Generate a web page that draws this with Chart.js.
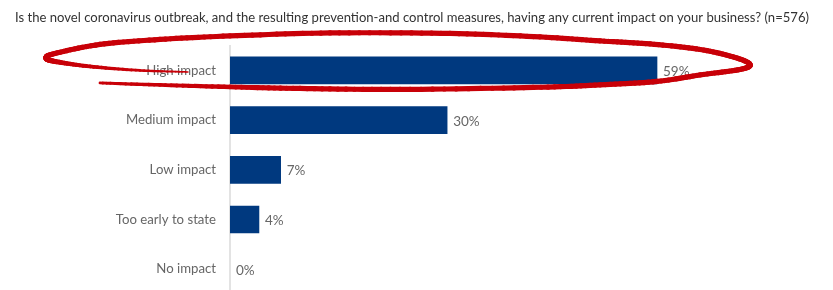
<!DOCTYPE html>
<html>
<head>
<meta charset="utf-8">
<script src="https://cdn.jsdelivr.net/npm/chart.js@4/dist/chart.umd.min.js"></script>
<style>
  html, body { margin: 0; padding: 0; background: #fff; overflow: hidden; }
  canvas { display: block; }
</style>
</head>
<body>
<canvas id="c" width="833" height="302" style="width:833px;height:302px"></canvas>
<script>
const TITLE = 'Is the novel coronavirus outbreak, and the resulting prevention-and control measures, having any current impact on your business? (n=576)';
const categories = ['High impact', 'Medium impact', 'Low impact', 'Too early to state', 'No impact'];
const values = [59, 30, 7, 4, 0];
const valueLabels = ['59%', '30%', '7%', '4%', '0%'];

const FONT = 'Lato, "Open Sans", sans-serif';

const valueLabelPlugin = {
  id: 'valueLabels',
  afterDatasetsDraw(chart) {
    const ctx = chart.ctx;
    const meta = chart.getDatasetMeta(0);
    ctx.save();
    ctx.font = '13.5px ' + FONT;
    ctx.fillStyle = '#666666';
    ctx.textBaseline = 'middle';
    ctx.textAlign = 'left';
    meta.data.forEach((bar, i) => {
      ctx.fillText(valueLabels[i], bar.x + 6, bar.y + 1);
    });
    ctx.restore();
  }
};

// hand-drawn red highlight around the first category, anchored to its row
const highlightPlugin = {
  id: 'highlight',
  afterDraw(chart) {
    const ctx = chart.ctx;
    const y0 = chart.scales.y.getPixelForValue(0);
    const x0 = chart.chartArea.left;
    // offsets relative to (axis left, row centre)
    const pts = [
      [-42, 1.5], [-90, 0], [-140, -4], [-175, -9], [-184, -12.5],
      [-175, -17], [-130, -26], [-70, -31], [0, -34.5], [100, -37.5],
      [220, -37], [310, -33.5], [370, -29.5], [420, -26.5], [470, -21],
      [505, -13], [520, -6], [510, -1], [470, 4.5], [427, 11],
      [370, 14.5], [303, 17], [170, 19], [70, 18], [0, 16.5],
      [-70, 14.5], [-130, 12.5]
    ].map(p => [x0 + p[0], y0 + p[1]]);
    const samples = [];
    for (let i = 0; i < pts.length - 1; i++) {
      const p0 = pts[Math.max(0, i - 1)], p1 = pts[i], p2 = pts[i + 1], p3 = pts[Math.min(pts.length - 1, i + 2)];
      for (let s = 0; s < 12; s++) {
        const t = s / 12, t2 = t * t, t3 = t2 * t;
        const f = (a, b, c, d) => 0.5 * ((2 * b) + (-a + c) * t + (2 * a - 5 * b + 4 * c - d) * t2 + (-a + 3 * b - 3 * c + d) * t3);
        samples.push([f(p0[0], p1[0], p2[0], p3[0]), f(p0[1], p1[1], p2[1], p3[1])]);
      }
    }
    samples.push(pts[pts.length - 1]);
    ctx.save();
    ctx.strokeStyle = '#c80008';
    ctx.lineCap = 'round';
    const n = samples.length;
    for (let i = 0; i < n - 1; i++) {
      const u = i / (n - 1);
      let w = 5.2;
      if (u < 0.12) w = 1.5 + 3.7 * (u / 0.12);
      if (u > 0.9) w = 5.2 - 2.5 * ((u - 0.9) / 0.1);
      ctx.lineWidth = w;
      ctx.beginPath();
      ctx.moveTo(samples[i][0], samples[i][1]);
      ctx.lineTo(samples[i + 1][0], samples[i + 1][1]);
      ctx.stroke();
    }
    ctx.restore();
  }
};

new Chart(document.getElementById('c'), {
  type: 'bar',
  data: {
    labels: categories,
    datasets: [{
      data: values,
      backgroundColor: ctx => (ctx.raw === 0 ? 'rgba(0,0,0,0)' : '#00397f'),
      borderWidth: 0,
      barThickness: 27
    }]
  },
  options: {
    indexAxis: 'y',
    responsive: false,
    animation: false,
    devicePixelRatio: 1,
    layout: { padding: { left: 15, right: 24, top: 0, bottom: 0.6 } },
    plugins: {
      legend: { display: false },
      tooltip: { enabled: false },
      title: {
        display: true,
        text: TITLE,
        align: 'start',
        color: '#333333',
        font: { family: FONT, size: 13.5, weight: 'normal', lineHeight: 1.2 },
        padding: { top: 10, bottom: 19.4 }
      }
    },
    scales: {
      x: { display: false, min: 0, max: 80 },
      y: {
        afterFit(scale) { scale.width = 215; },
        grid: { display: false, drawTicks: true, tickLength: 14, tickColor: 'rgba(0,0,0,0)' },
        border: { display: true, color: '#e3e3e3', width: 2 },
        ticks: { color: '#666666', padding: 0, font: { family: FONT, size: 13.2 } }
      }
    }
  },
  plugins: [valueLabelPlugin, highlightPlugin]
});
</script>
</body>
</html>
